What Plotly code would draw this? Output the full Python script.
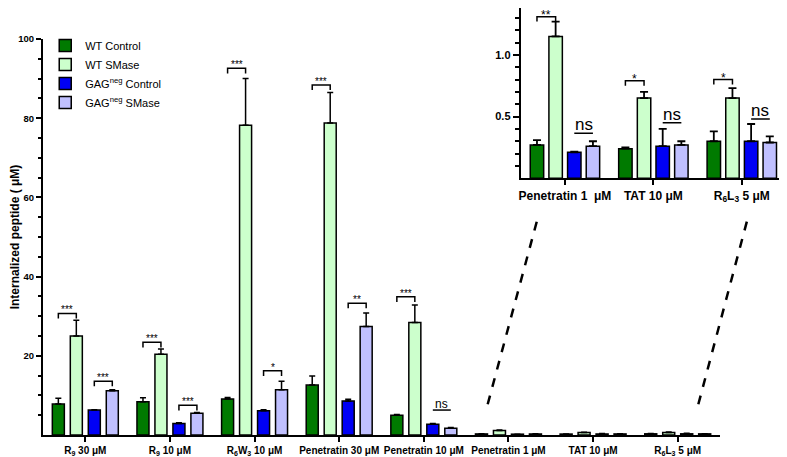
import plotly.graph_objects as go

# ---- data ----
groups = ["R<sub>9</sub> 30 μM", "R<sub>9</sub> 10 μM", "R<sub>6</sub>W<sub>3</sub> 10 μM",
          "Penetratin 30 μM", "Penetratin 10 μM", "Penetratin 1 μM", "TAT 10 μM",
          "R<sub>6</sub>L<sub>3</sub> 5 μM"]
inset_groups = ["Penetratin 1  μM", "TAT 10 μM", "R<sub>6</sub>L<sub>3</sub> 5 μM"]

wt_ctrl = [7.8, 8.4, 9.1, 12.6, 5.0, 0.27, 0.24, 0.30]
wt_ctrl_err = [1.5, 1.0, 0.4, 2.3, 0.2, 0.04, 0.01, 0.08]
wt_smase = [25.0, 20.4, 78.2, 78.8, 28.4, 1.15, 0.65, 0.65]
wt_smase_err = [4.0, 1.3, 11.8, 7.7, 4.4, 0.12, 0.05, 0.08]
gag_ctrl = [6.3, 2.9, 6.1, 8.6, 2.7, 0.21, 0.26, 0.30]
gag_ctrl_err = [0.1, 0.2, 0.3, 0.4, 0.2, 0.005, 0.14, 0.14]
gag_smase = [11.2, 5.5, 11.4, 27.4, 1.7, 0.26, 0.27, 0.29]
gag_smase_err = [0.2, 0.2, 2.2, 3.4, 0.2, 0.04, 0.03, 0.05]

names = ["WT Control", "WT SMase", "GAG<sup>neg</sup> Control", "GAG<sup>neg</sup> SMase"]
colors = ["#007A00", "#CCFFCC", "#0000F5", "#C0C0FF"]
series = [wt_ctrl, wt_smase, gag_ctrl, gag_smase]
errors = [wt_ctrl_err, wt_smase_err, gag_ctrl_err, gag_smase_err]

# significance: group, pair (0 = WT pair, 1 = GAG pair), height, label
sig_group = [0, 0, 1, 1, 2, 2, 3, 3, 4, 4]
sig_pair = [0, 1, 0, 1, 0, 1, 0, 1, 0, 1]
sig_y = [30.7, 13.6, 23.4, 7.5, 92.6, 16.2, 88.4, 33.3, 34.9, 6.3]
sig_text = ["***", "***", "***", "***", "***", "*", "***", "**", "***", "ns"]

inset_sig_group = [0, 0, 1, 1, 2, 2]
inset_sig_pair = [0, 1, 0, 1, 0, 1]
inset_sig_y = [1.31, 0.365, 0.79, 0.45, 0.80, 0.48]
inset_sig_text = ["**", "ns", "*", "ns", "*", "ns"]

FONT = "Arial, Liberation Sans, sans-serif"
slot = 0.2125
bw = 0.142
islot = 0.211
ibw = 0.152

fig = go.Figure()
xs = list(range(len(groups)))
for k in range(4):
    fig.add_trace(go.Bar(
        x=xs, y=series[k], name=names[k], width=bw, offset=(k - 2) * slot + (slot - bw) / 2,
        marker=dict(color=colors[k], line=dict(color="black", width=1.5)),
        error_y=dict(type="data", array=errors[k], arrayminus=[0] * len(xs), symmetric=False,
                     color="black", thickness=1.5, width=3),
        xaxis="x", yaxis="y"))
for k in range(4):
    fig.add_trace(go.Bar(
        x=list(range(3)), y=series[k][5:], showlegend=False, width=ibw,
        offset=(k - 2) * islot + (islot - ibw) / 2,
        marker=dict(color=colors[k], line=dict(color="black", width=1.5)),
        error_y=dict(type="data", array=errors[k][5:], arrayminus=[0] * 3, symmetric=False,
                     color="black", thickness=1.8, width=4),
        xaxis="x2", yaxis="y2"))


def bracket(g, pair, h, text, s, xr, yr, tick, size_star, size_ns, star_shift):
    x1 = g + (2 * pair - 1.5) * s
    x2 = g + (2 * pair - 0.5) * s
    if text == "ns":
        fig.add_shape(type="line", x0=x1, x1=x2, y0=h, y1=h, xref=xr, yref=yr,
                      line=dict(color="black", width=1.5))
        fig.add_annotation(x=(x1 + x2) / 2, y=h, xref=xr, yref=yr, text="ns", showarrow=False,
                           yanchor="bottom", yshift=-3, font=dict(family=FONT, size=size_ns, color="black"))
    else:
        fig.add_shape(type="path", xref=xr, yref=yr,
                      path="M %f,%f L %f,%f L %f,%f L %f,%f" % (x1, h - tick, x1, h, x2, h, x2, h - tick),
                      line=dict(color="black", width=1.5))
        fig.add_annotation(x=(x1 + x2) / 2, y=h, xref=xr, yref=yr, text=text, showarrow=False,
                           yanchor="bottom", yshift=star_shift,
                           font=dict(family=FONT, size=size_star, color="black"))


for g, p, h, t in zip(sig_group, sig_pair, sig_y, sig_text):
    bracket(g, p, h, t, slot, "x", "y", 1.3, 10, 12, -4)
for g, p, h, t in zip(inset_sig_group, inset_sig_pair, inset_sig_y, inset_sig_text):
    bracket(g, p, h, t, islot, "x2", "y2", 0.04, 12, 17, -7)

# zoom lines to the inset
for x0, y0, x1, y1 in [(0.5985, 0.0719, 0.6666, 0.5129), (0.882, 0.0719, 0.9493, 0.5129)]:
    fig.add_shape(type="line", xref="paper", yref="paper", x0=x0, y0=y0, x1=x1, y1=y1,
                  line=dict(color="black", width=2.5, dash="dash"))

axis_common = dict(showline=True, linecolor="black", linewidth=2, ticks="outside", automargin=False,
                   tickcolor="black", tickwidth=1.5, showgrid=False, zeroline=False)

# page body adds an 8px offset, so the figure is laid out 8px smaller
fig.update_layout(
    width=779, height=449,
    margin=dict(l=35, r=1, t=0, b=22),
    plot_bgcolor="white", paper_bgcolor="white",
    barmode="overlay",
    font=dict(family=FONT, color="black"),
    xaxis=dict(domain=[0, 0.9112], range=[-0.5, 7.5], tickvals=xs, ticktext=groups, ticklen=5,
               tickfont=dict(family=FONT, size=10, weight="bold"), **axis_common),
    yaxis=dict(domain=[0, 0.9274], range=[0, 100], tickvals=[20, 40, 60, 80, 100], ticklen=5,
               tickfont=dict(family=FONT, size=9.5, weight="bold"),
               minor=dict(tickvals=list(range(5, 100, 5)), ticklen=3, ticks="outside",
                          tickcolor="black", tickwidth=1.5),
               title=dict(text="Internalized peptide ( μM)", standoff=12,
                          font=dict(family=FONT, size=12, weight="bold")),
               **axis_common),
    xaxis2=dict(domain=[0.643, 1.0], range=[-0.5, 2.5], tickvals=[0, 1, 2], ticktext=inset_groups,
                ticklen=5, anchor="y2",
                tickfont=dict(family=FONT, size=12, weight="bold"), **axis_common),
    yaxis2=dict(domain=[0.6012, 1.0], range=[0, 1.38], tickvals=[0.5, 1.0], ticktext=["0.5", "1.0"],
                ticklen=6, anchor="x2",
                tickfont=dict(family=FONT, size=11, weight="bold"),
                minor=dict(tickvals=[0.1, 0.2, 0.3, 0.4, 0.6, 0.7, 0.8, 0.9, 1.1, 1.2, 1.3],
                           ticklen=4, ticks="outside", tickcolor="black", tickwidth=1.5),
                **axis_common),
    legend=dict(x=0.003, y=0.946, xanchor="left", yanchor="top",
                font=dict(family=FONT, size=11, color="black"), bgcolor="rgba(0,0,0,0)",
                itemwidth=30),
)

fig.write_html("out.html")
